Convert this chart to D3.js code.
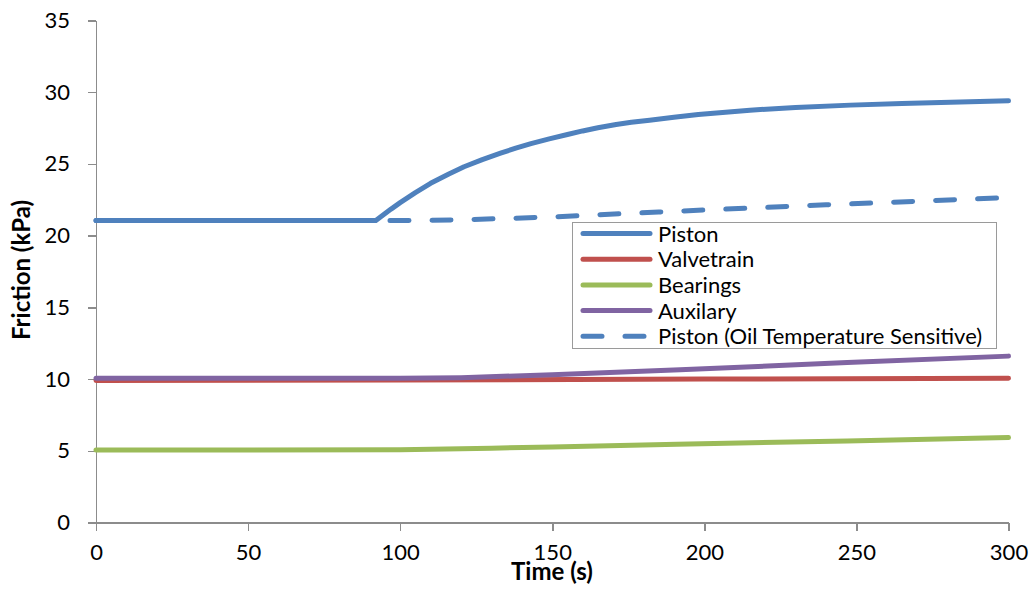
<!DOCTYPE html>
<html>
<head>
<meta charset="utf-8">
<script src="https://cdn.jsdelivr.net/npm/d3@7"></script>
<style>
  body { margin: 0; background: #fff; }
  text { font-family: Lato, "Open Sans", sans-serif; fill: #000; }
  .axis path, .axis line { stroke: #8c8c8c; stroke-width: 1.5; shape-rendering: crispEdges; }
  .axis text { font-size: 22px; }
</style>
</head>
<body>
<div id="chart"></div>
<script>
// values (time in s, friction in kPa)
var pistonT    = [0, 50, 92, 97, 100, 105, 110, 116, 121, 127, 133, 138, 143, 149, 155, 160, 165, 171, 176, 182, 190, 198, 215, 230, 248, 265, 281, 300];
var pistonV    = [21.05, 21.05, 21.05, 21.85, 22.3, 23.0, 23.65, 24.3, 24.8, 25.3, 25.75, 26.1, 26.42, 26.75, 27.05, 27.3, 27.52, 27.75, 27.9, 28.05, 28.25, 28.45, 28.75, 28.93, 29.1, 29.22, 29.3, 29.4];
var valveT     = [0, 100, 200, 300];
var valveV     = [9.9, 9.93, 10.0, 10.05];
var bearingT   = [0, 50, 100, 130, 150, 191, 247, 300];
var bearingV   = [5.05, 5.05, 5.08, 5.18, 5.27, 5.46, 5.69, 5.92];
var auxT       = [0, 50, 100, 120, 150, 192, 247, 300];
var auxV       = [10.05, 10.05, 10.05, 10.1, 10.3, 10.65, 11.15, 11.6];
var pistonOilT = [0, 50, 100, 120, 150, 185, 240, 300];
var pistonOilV = [21.05, 21.05, 21.05, 21.1, 21.3, 21.65, 22.15, 22.65];

var xTicks = [0, 50, 100, 150, 200, 250, 300];
var yTicks = [0, 5, 10, 15, 20, 25, 30, 35];

var seriesNames = ["Piston", "Valvetrain", "Bearings", "Auxilary", "Piston (Oil Temperature Sensitive)"];
var seriesColors = ["#4f81bd", "#c0504d", "#9bbb59", "#8064a2", "#4f81bd"];

var width = 1035, height = 591;

var svg = d3.select("#chart").append("svg")
    .attr("width", width)
    .attr("height", height);

var x = d3.scaleLinear().domain([0, 300]).range([96, 1008.5]);
var y = d3.scaleLinear().domain([0, 35]).range([522.5, 20.5]);

// axes
svg.append("g")
    .attr("class", "axis")
    .attr("transform", "translate(0," + y(0) + ")")
    .call(d3.axisBottom(x).tickValues(xTicks).tickSize(8).tickSizeOuter(0).tickPadding(14));

svg.append("g")
    .attr("class", "axis")
    .attr("transform", "translate(" + x(0) + ",0)")
    .call(d3.axisLeft(y).tickValues(yTicks).tickSize(8).tickSizeOuter(0).tickPadding(18));

// axis titles
svg.append("text")
    .attr("x", 552)
    .attr("y", 580)
    .style("text-anchor", "middle")
    .style("font-weight", "bold")
    .style("font-size", "24px")
    .text("Time (s)");

svg.append("text")
    .attr("transform", "translate(30,270) rotate(-90)")
    .style("text-anchor", "middle")
    .style("font-weight", "bold")
    .style("font-size", "24px")
    .text("Friction (kPa)");

// lines
var line = d3.line()
    .x(function(d) { return x(d[0]); })
    .y(function(d) { return y(d[1]); });

function pairs(t, v) {
    return t.map(function(d, i) { return [d, v[i]]; });
}

var series = [
    { data: pairs(valveT, valveV), color: seriesColors[1], dash: null },
    { data: pairs(bearingT, bearingV), color: seriesColors[2], dash: null },
    { data: pairs(auxT, auxV), color: seriesColors[3], dash: null },
    { data: pairs(pistonOilT, pistonOilV), color: seriesColors[4], dash: "19,23" },
    { data: pairs(pistonT, pistonV), color: seriesColors[0], dash: null }
];

svg.selectAll("path.series")
    .data(series)
    .enter().append("path")
    .attr("class", "series")
    .attr("d", function(d) { return line(d.data); })
    .style("fill", "none")
    .style("stroke", function(d) { return d.color; })
    .style("stroke-width", 5)
    .style("stroke-linecap", "round")
    .style("stroke-linejoin", "round")
    .style("stroke-dasharray", function(d) { return d.dash; });

// legend
var legend = svg.append("g");

legend.append("rect")
    .attr("x", 572.5)
    .attr("y", 222.5)
    .attr("width", 424)
    .attr("height", 126)
    .style("fill", "#fff")
    .style("stroke", "#9a9a9a")
    .style("stroke-width", 1);

var rows = legend.selectAll("g.row")
    .data(seriesNames)
    .enter().append("g")
    .attr("class", "row")
    .attr("transform", function(d, i) { return "translate(0," + (233.5 + i * 25.7) + ")"; });

rows.append("line")
    .attr("x1", 583)
    .attr("x2", 650)
    .style("stroke", function(d, i) { return seriesColors[i]; })
    .style("stroke-width", 5)
    .style("stroke-linecap", "round")
    .style("stroke-dasharray", function(d, i) { return i === 4 ? "19,23" : null; });

rows.append("text")
    .attr("x", 658)
    .attr("y", 8)
    .style("font-size", "22px")
    .text(function(d) { return d; });
</script>
</body>
</html>
